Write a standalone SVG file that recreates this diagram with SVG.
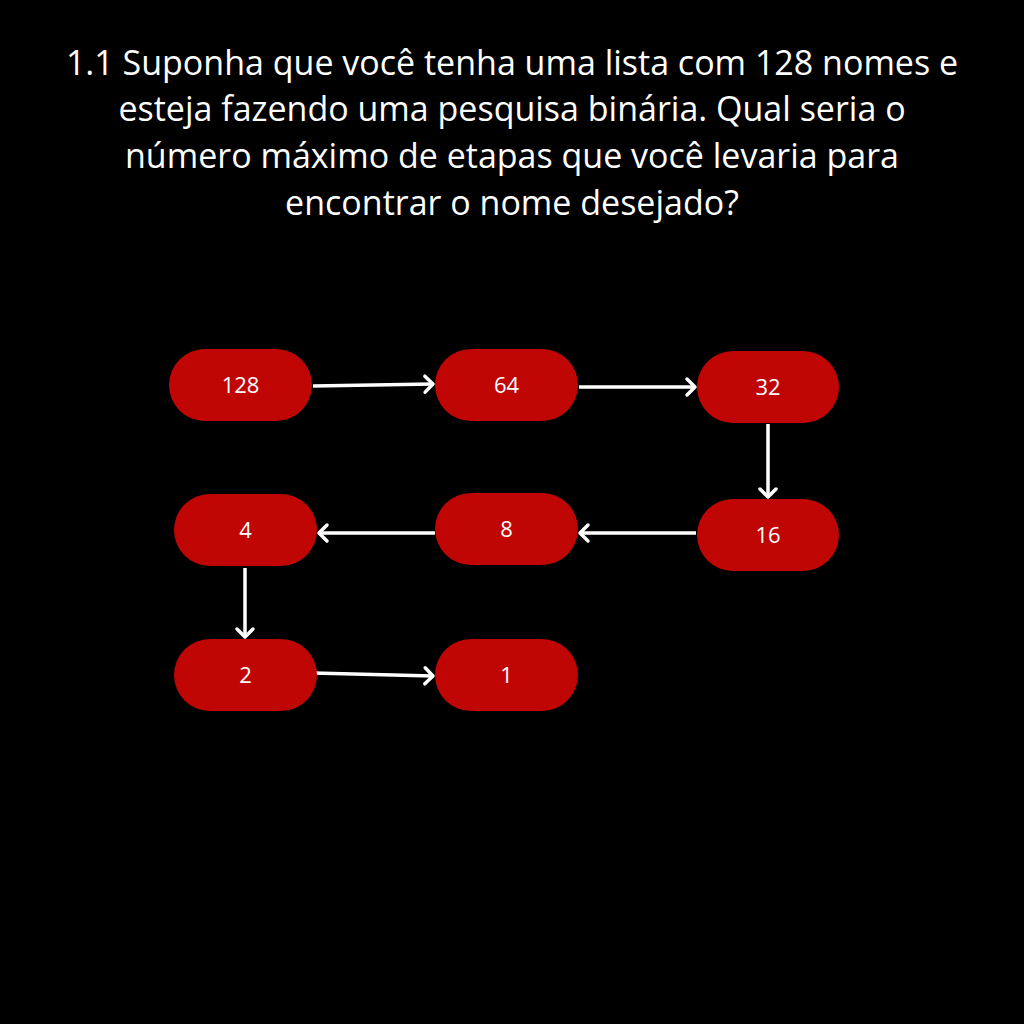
<svg xmlns="http://www.w3.org/2000/svg" width="1024" height="1024" viewBox="0 0 1024 1024">
<style>
.title{font-family:"Open Sans","Noto Sans",sans-serif;font-size:34px;fill:#ffffff;text-anchor:middle}
.node rect{fill:#c00505}
.node text{font-family:"Open Sans","Noto Sans",sans-serif;font-size:22px;fill:#ffffff;text-anchor:middle;dominant-baseline:central}
.edge{stroke:#ffffff;stroke-width:3.5;fill:none;marker-end:url(#ah)}
</style>
<defs>
<marker id="ah" markerUnits="userSpaceOnUse" markerWidth="20" markerHeight="24" viewBox="-12 -12 16 24" refX="0" refY="0" orient="auto">
<path d="M-8,-8 L0,0 L-8,8" fill="none" stroke="#ffffff" stroke-width="3.5" stroke-linecap="round" stroke-linejoin="round"/>
</marker>
</defs>
<rect width="1024" height="1024" fill="#000000"/>
<g id="title">
<text class="title" x="512" y="75">1.1 Suponha que você tenha uma lista com 128 nomes e</text>
<text class="title" x="512" y="121">esteja fazendo uma pesquisa binária. Qual seria o</text>
<text class="title" x="512" y="168">número máximo de etapas que você levaria para</text>
<text class="title" x="512" y="215">encontrar o nome desejado?</text>
</g>
<g id="connectors">
<path class="edge" d="M313,386 L433,384"/>
<path class="edge" d="M579,387 L695,387"/>
<path class="edge" d="M768,424 L768,497"/>
<path class="edge" d="M696,533 L580,533"/>
<path class="edge" d="M435,533 L319,533"/>
<path class="edge" d="M245,568 L245,637"/>
<path class="edge" d="M313,673 L433,676"/>
</g>
<g id="n128" class="node"><rect x="169" y="349" width="143" height="72" rx="36"/><text x="240.5" y="384">128</text></g>
<g id="n64" class="node"><rect x="435" y="349" width="143" height="72" rx="36"/><text x="506.5" y="384">64</text></g>
<g id="n32" class="node"><rect x="697" y="351" width="142" height="72" rx="36"/><text x="768" y="386">32</text></g>
<g id="n16" class="node"><rect x="697" y="499" width="142" height="72" rx="36"/><text x="768" y="534">16</text></g>
<g id="n8" class="node"><rect x="435" y="493" width="143" height="72" rx="36"/><text x="506.5" y="528">8</text></g>
<g id="n4" class="node"><rect x="174" y="494" width="143" height="72" rx="36"/><text x="245.5" y="529">4</text></g>
<g id="n2" class="node"><rect x="174" y="639" width="143" height="72" rx="36"/><text x="245.5" y="674">2</text></g>
<g id="n1" class="node"><rect x="435" y="639" width="143" height="72" rx="36"/><text x="506.5" y="674">1</text></g>
</svg>
